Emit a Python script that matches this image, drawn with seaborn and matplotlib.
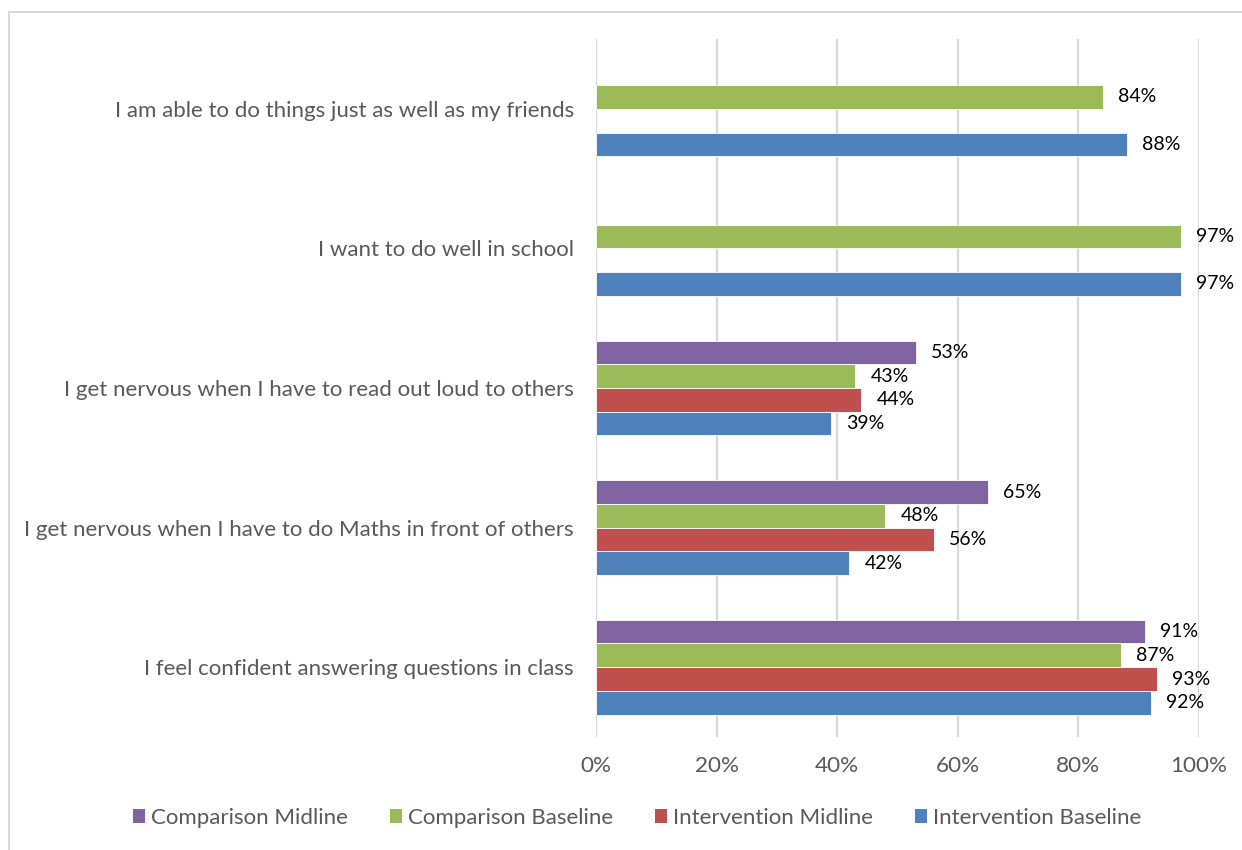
import numpy as np
import pandas as pd
import matplotlib
matplotlib.use("Agg")
import matplotlib.pyplot as plt
from matplotlib.lines import Line2D
from matplotlib.patches import Patch
import seaborn as sns

statements = [
    "I am able to do things just as well as my friends",
    "I want to do well in school",
    "I get nervous when I have to read out loud to others",
    "I get nervous when I have to do Maths in front of others",
    "I feel confident answering questions in class",
]
groups = ["Comparison Midline", "Comparison Baseline",
          "Intervention Midline", "Intervention Baseline"]
comparison_midline = [np.nan, np.nan, 53, 65, 91]
comparison_baseline = [84, 97, 43, 48, 87]
intervention_midline = [np.nan, np.nan, 44, 56, 93]
intervention_baseline = [88, 97, 39, 42, 92]
colors = ["#8064A2", "#9BBB59", "#C0504D", "#4F81BD"]

rows = []
for g, vals in zip(groups, [comparison_midline, comparison_baseline,
                            intervention_midline, intervention_baseline]):
    for s, v in zip(statements, vals):
        rows.append({"statement": s, "group": g, "value": v})
df = pd.DataFrame(rows)

sns.set_theme(style="white")
plt.rcParams["font.family"] = ["Lato", "DejaVu Sans"]

fig = plt.figure(figsize=(12.42, 8.5), dpi=100)
ax = fig.add_axes([596 / 1242, 1 - 737 / 850, (1199 - 596) / 1242, (737 - 39) / 850])

sns.barplot(data=df.dropna(), y="statement", x="value", hue="group",
            order=statements, hue_order=groups, palette=colors,
            saturation=1, orient="h", width=0.68, gap=0, dodge=True, ax=ax,
            edgecolor="white", linewidth=0.6, legend=False)

ax.set_xlim(0, 100)
ax.set_ylim(4.5, -0.5)
ax.set_xticks(np.arange(0, 101, 20))
ax.set_xticklabels([f"{t}%" for t in range(0, 101, 20)])
ax.grid(axis="x", color="#d9d9d9", linewidth=1.6)
ax.set_axisbelow(True)
for sp in ax.spines.values():
    sp.set_visible(False)
ax.set_xlabel("")
ax.set_ylabel("")
ax.tick_params(axis="x", colors="#595959", labelsize=16.2, length=0, pad=14)
ax.tick_params(axis="y", colors="#595959", labelsize=16.0, length=0, pad=16)

# value labels from the bar data
for container in ax.containers:
    labels = [f"{v:.0f}%" if not np.isnan(v) else "" for v in container.datavalues]
    ax.bar_label(container, labels=labels, padding=11, fontsize=14,
                 color="#000000")

handles = [Patch(facecolor=c, edgecolor="none") for c in colors]
fig.legend(handles, groups, loc="center", bbox_to_anchor=(637 / 1242, 1 - 818 / 850),
           ncol=4, frameon=False, fontsize=16, labelcolor="#595959",
           handlelength=0.55, handleheight=0.6, handletextpad=0.25,
           columnspacing=1.9)

# chart area border
fig.add_artist(Line2D([9 / 1242, 9 / 1242], [0, 1 - 12 / 850],
                      transform=fig.transFigure, color="#d9d9d9", lw=1.5))
fig.add_artist(Line2D([9 / 1242, 1], [1 - 12 / 850, 1 - 12 / 850],
                      transform=fig.transFigure, color="#d9d9d9", lw=1.5))

fig.savefig("out.png", dpi=100)
